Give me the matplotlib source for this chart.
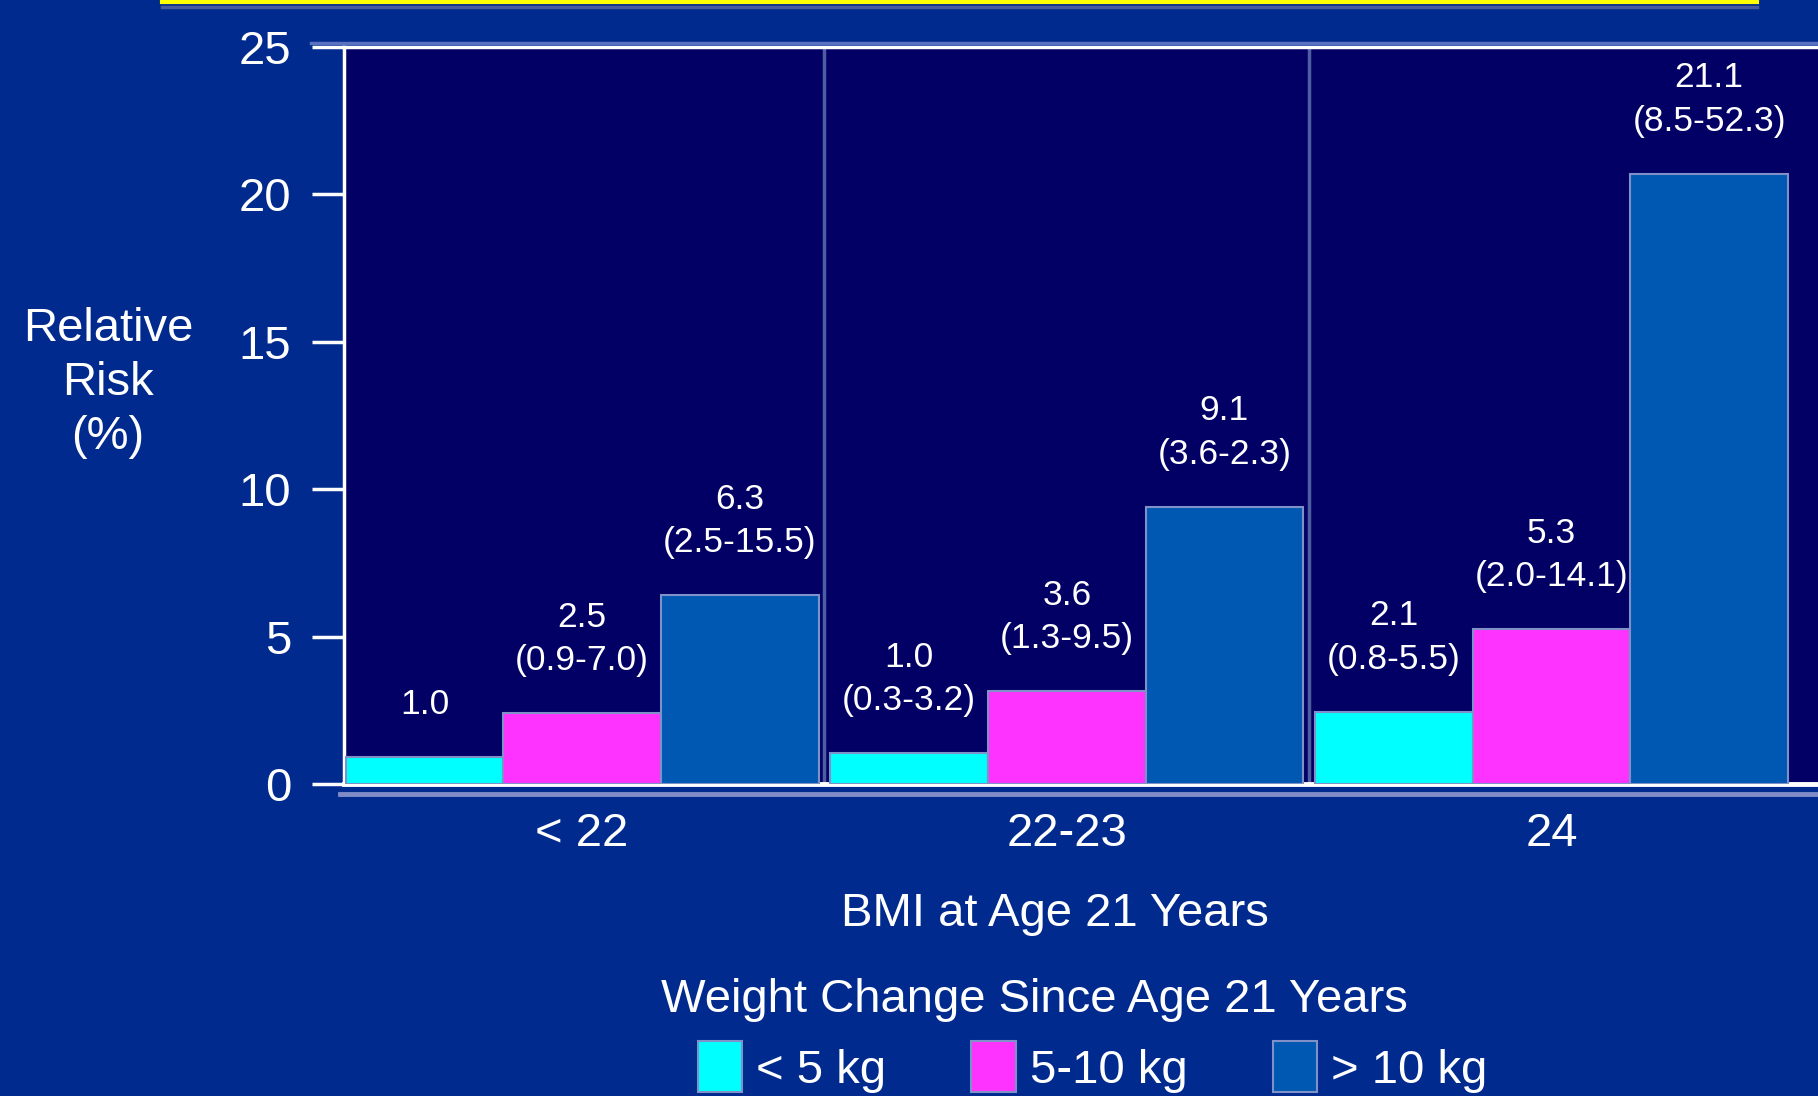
import matplotlib.pyplot as plt
from matplotlib.lines import Line2D
from matplotlib.patches import Patch

# ── style ───────────────────────────────────────────────────────────
plt.rcParams.update({
    'font.family': ['Liberation Sans', 'DejaVu Sans'],
    'font.size':   33,
    'text.color':  'white',
})

FIG_BG = '#002a8e'
AX_BG  = '#020064'
COLORS = ['#00ffff', '#ff33ff', '#0058b2']
EDGE   = '#8090c8'
SEP    = '#4e5ea0'

# ── data (bar heights, labels as printed) ──────────────────────────
groups = ['< 22', '22-23', '24']
series = ['< 5 kg', '5-10 kg', '> 10 kg']
heights = [
    [0.9, 1.05, 2.45],    # < 5 kg
    [2.4, 3.15, 5.25],    # 5-10 kg
    [6.4, 9.4, 20.7],     # > 10 kg
]
value_labels = [
    ['1.0', '1.0\n(0.3-3.2)', '2.1\n(0.8-5.5)'],
    ['2.5\n(0.9-7.0)', '3.6\n(1.3-9.5)', '5.3\n(2.0-14.1)'],
    ['6.3\n(2.5-15.5)', '9.1\n(3.6-2.3)', '21.1\n(8.5-52.3)'],
]
yticks = [0, 5, 10, 15, 20, 25]

# ── layout ──────────────────────────────────────────────────────────
W, H = 1818, 1096
PITCH = 3.075          # group spacing in bar widths

fig = plt.figure(figsize=(W / 100, H / 100), dpi=100)
fig.patch.set_facecolor(FIG_BG)

ax = fig.add_axes([344 / W, 1 - 784 / H, 1474 / W, 737 / H])
ax.set_facecolor(AX_BG)

# ── bars ────────────────────────────────────────────────────────────
for j, (vals, col) in enumerate(zip(heights, COLORS)):
    xs = [i * PITCH + j + 0.5 for i in range(len(groups))]
    ax.bar(xs, vals, width=1.0, color=col, edgecolor=EDGE,
           linewidth=1.5, zorder=3)
    for x, v, lab in zip(xs, vals, value_labels[j]):
        ax.annotate(lab, xy=(x, v), xytext=(0, 26),
                    textcoords='offset points', ha='center', va='bottom',
                    fontsize=25.5, linespacing=1.4, color='white',
                    zorder=5)

# group separators
for i in range(len(groups) - 1):
    ax.axvline(i * PITCH + 3 + (PITCH - 3) / 2, color=SEP, lw=2.5,
               zorder=2)

# ── axes ────────────────────────────────────────────────────────────
ax.set_xlim(-0.01, 9.34)
ax.set_ylim(0, 25)

ax.set_yticks(yticks)
ax.set_yticklabels([str(t) for t in yticks])
ax.tick_params(axis='y', colors='white', length=23, width=2.5,
               pad=15, labelsize=34)

ax.set_xticks([i * PITCH + 1.5 for i in range(len(groups))])
ax.set_xticklabels(groups)
ax.tick_params(axis='x', colors='white', length=0, pad=20,
               labelsize=34)

ax.spines['right'].set_visible(False)
for s in ['left', 'top']:
    ax.spines[s].set_color('white')
    ax.spines[s].set_linewidth(2.5)
ax.spines['bottom'].set_color('white')
ax.spines['bottom'].set_linewidth(3.5)

# shaded companion lines beside the frame
fig.add_artist(Line2D([311 / W, 1], [1 - 43 / H] * 2, color='#5a70c0',
                      lw=2.5))
fig.add_artist(Line2D([340 / W, 1], [1 - 794 / H] * 2, color='#7f8cc8',
                      lw=3.5))

# yellow rule at the very top
fig.add_artist(Line2D([162 / W, 1757 / W], [1 - 7 / H] * 2,
                      color='#485a9a', lw=2.5))
fig.add_artist(Line2D([162 / W, 1757 / W], [1 - 1.5 / H] * 2,
                      color='#ffff00', lw=3))

# ── labels ──────────────────────────────────────────────────────────
fig.text(108 / W, 1 - 383 / H, 'Relative\nRisk\n(%)', ha='center',
         va='center', linespacing=1.3, fontsize=34)
fig.text(1055 / W, 1 - 914 / H, 'BMI at Age 21 Years', ha='center',
         va='center', fontsize=34)
fig.text(1034 / W, 1 - 1000 / H, 'Weight Change Since Age 21 Years',
         ha='center', va='center', fontsize=34)

# ── legend (cut by the bottom edge, as in the slide) ────────────────
handles = [Patch(facecolor=c, edgecolor=EDGE, linewidth=1.5)
           for c in COLORS]
fig.legend(handles, series, loc='center',
           bbox_to_anchor=(0.601, 1 - 1067 / H), ncol=3, frameon=False,
           handlelength=0.94, handleheight=1.27, handletextpad=0.3,
           columnspacing=1.8, fontsize=34, labelcolor='white')

fig.savefig('out.png', dpi=100, facecolor=FIG_BG)
